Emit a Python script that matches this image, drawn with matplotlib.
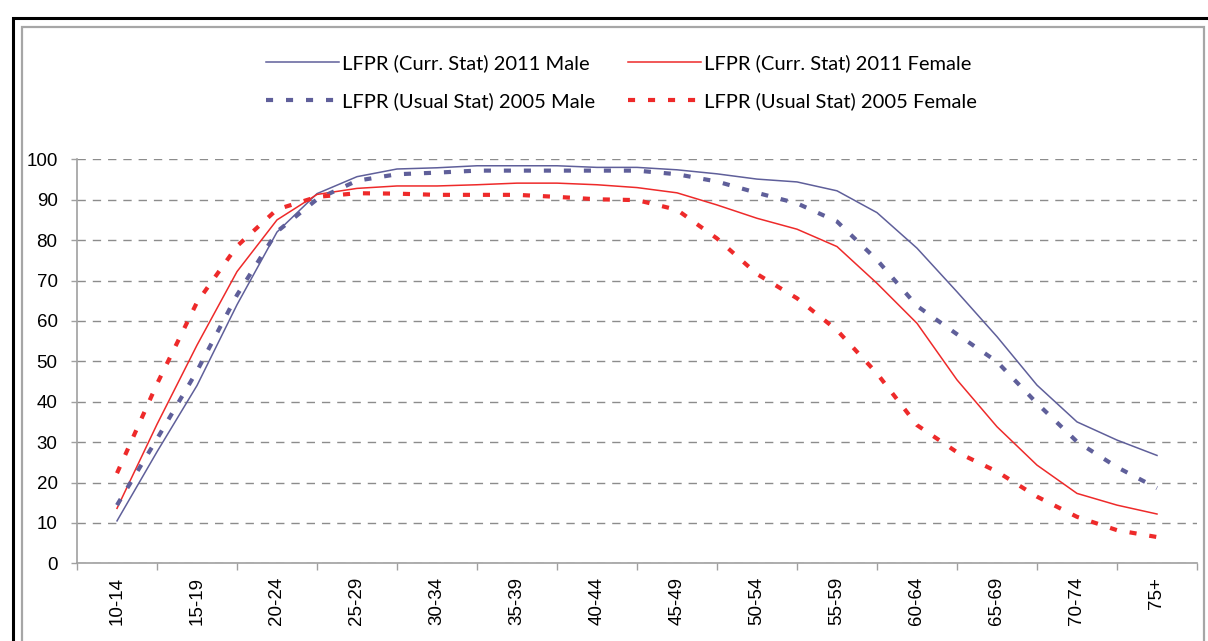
import matplotlib
matplotlib.use("Agg")
import matplotlib.pyplot as plt
from matplotlib.patches import Rectangle
import numpy as np

# Age groups on the category axis
age_groups = ["10-14", "15-19", "20-24", "25-29", "30-34", "35-39", "40-44",
              "45-49", "50-54", "55-59", "60-64", "65-69", "70-74", "75+"]

# Participation rates (%) sampled every half age group, from 10-14 through 75+
lfpr_curr_2011_male = [10.5, 27.6, 44.0, 64.0, 82.0, 91.5, 95.7, 97.6, 97.9, 98.4,
                       98.4, 98.4, 98.0, 98.0, 97.4, 96.4, 95.1, 94.4, 92.2, 86.8,
                       78.0, 67.2, 56.1, 44.1, 35.0, 30.5, 26.7]
lfpr_curr_2011_female = [13.6, 34.4, 54.0, 72.2, 85.0, 91.3, 92.8, 93.4, 93.4, 93.7,
                         94.1, 94.1, 93.7, 93.0, 91.7, 88.7, 85.4, 82.7, 78.4, 69.3,
                         59.4, 45.4, 33.8, 24.3, 17.3, 14.4, 12.2]
lfpr_usual_2005_male = [14.4, 30.8, 47.6, 66.4, 82.1, 90.1, 94.7, 96.3, 96.7, 97.2,
                        97.2, 97.2, 97.2, 97.2, 96.3, 94.5, 91.7, 89.1, 84.6, 75.1,
                        63.7, 56.7, 49.9, 39.6, 30.1, 23.8, 18.6]
lfpr_usual_2005_female = [22.3, 44.4, 64.6, 78.5, 87.6, 90.7, 91.6, 91.5, 91.2, 91.2,
                          91.2, 90.7, 90.1, 89.9, 87.5, 80.4, 71.6, 65.6, 57.7, 47.0,
                          34.2, 27.5, 22.7, 16.5, 11.5, 8.2, 6.5]

series_labels = ["LFPR (Curr. Stat) 2011 Male", "LFPR (Curr. Stat) 2011 Female",
                 "LFPR (Usual Stat) 2005 Male", "LFPR (Usual Stat) 2005 Female"]

BLUE = "#5f5f9a"
RED = "#ee2a2a"
GRID = "#8c8c8c"

W, H = 1208, 641
fig = plt.figure(figsize=(W / 100, H / 100), dpi=100)

# outer frames
fig.patches.append(Rectangle((13 / W, -0.1), 1.2, (H - 18) / H + 0.1,
                             transform=fig.transFigure, fill=False,
                             edgecolor="black", linewidth=2.2, zorder=0))
fig.patches.append(Rectangle((22 / W, -0.1), (1204 - 22) / W, (H - 27) / H + 0.1,
                             transform=fig.transFigure, fill=False,
                             edgecolor="#a6a6a6", linewidth=1.6, zorder=0))

left, right, top, bottom = 77, 1197, 159.3, 563.3
ax = fig.add_axes([left / W, 1 - bottom / H, (right - left) / W, (bottom - top) / H])

n = len(lfpr_curr_2011_male)
xs = np.arange(n) / 2.0

l1, = ax.plot(xs, lfpr_curr_2011_male, color=BLUE, lw=1.1, zorder=3)
l2, = ax.plot(xs, lfpr_curr_2011_female, color=RED, lw=1.1, zorder=3)
l3, = ax.plot(xs, lfpr_usual_2005_male, color=BLUE, lw=3.0,
              linestyle=(0, (1.7, 3.1)), dash_capstyle="butt", zorder=3)
l4, = ax.plot(xs, lfpr_usual_2005_female, color=RED, lw=3.0,
              linestyle=(0, (1.7, 3.1)), dash_capstyle="butt", zorder=3)

ax.set_xlim(-0.5, len(age_groups) - 0.5)
ax.set_ylim(0, 100)

ax.set_yticks(np.arange(0, 101, 10))
ax.set_xticks(np.arange(len(age_groups)))
ax.set_xticklabels(age_groups, rotation=90, fontsize=13.5, family="Liberation Sans")
ax.set_xticks(np.arange(len(age_groups) + 1) - 0.5, minor=True)
for lab in ax.get_yticklabels():
    lab.set_fontsize(13.5)
    lab.set_family("Liberation Sans")

ax.tick_params(axis="x", which="major", length=0, pad=10)
ax.tick_params(axis="x", which="minor", length=5, color="#a0a0a0", width=1)
ax.tick_params(axis="y", length=4, color="#a0a0a0", width=1, pad=10)

ax.yaxis.grid(True, linestyle=(0, (6, 5)), color=GRID, linewidth=1.0)
ax.set_axisbelow(True)
for s in ["top", "right"]:
    ax.spines[s].set_visible(False)
for s in ["left", "bottom"]:
    ax.spines[s].set_color("#a0a0a0")
    ax.spines[s].set_linewidth(1.2)

# legend in two rows: 2011 series on top, 2005 series below
leg = fig.legend([l1, l3, l2, l4],
                 [series_labels[0], series_labels[2], series_labels[1], series_labels[3]],
                 ncol=2, loc="upper left", bbox_to_anchor=(248 / W, 1 - 36 / H),
                 frameon=False, prop={"family": "Lato", "size": 14.5},
                 handlelength=3.6, handletextpad=0.15, columnspacing=1.65,
                 labelspacing=1.0)

fig.savefig("out.png", dpi=100, facecolor="white")
